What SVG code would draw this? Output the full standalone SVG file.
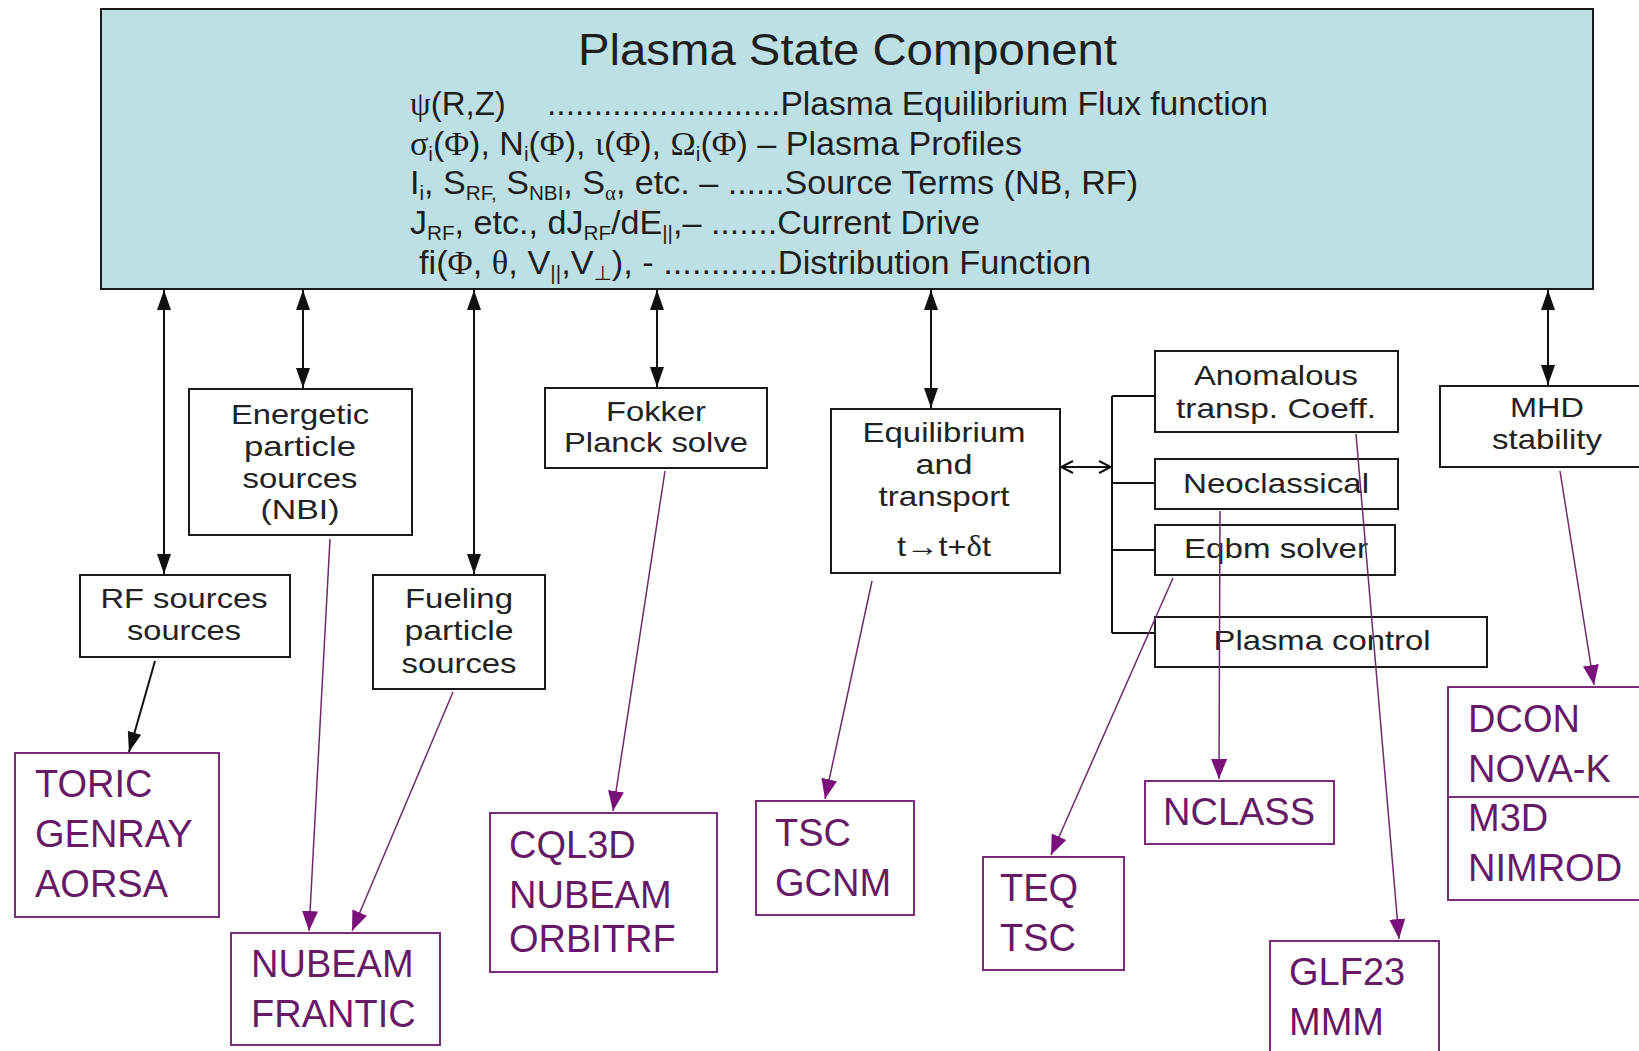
<svg xmlns="http://www.w3.org/2000/svg" width="1639" height="1051" viewBox="0 0 1639 1051">
<style>
.t{font-family:"Liberation Sans","DejaVu Sans",sans-serif;fill:#1e1e1e}
.bx{font-family:"Liberation Sans","DejaVu Sans",sans-serif;fill:#222;font-size:28.5px;text-anchor:middle}
.sf{font-family:"Liberation Serif","DejaVu Serif",serif}
.code{font-family:"Liberation Sans","DejaVu Sans",sans-serif;fill:#661a66;font-size:38px}
.g{font-family:"Liberation Serif","DejaVu Serif",serif}
.nb{fill:#fff;stroke:#1a1a1a;stroke-width:2}
.pb{fill:#fff;stroke:#7a2a7a;stroke-width:2}
.ba{stroke:#111;stroke-width:2;fill:none}
.pa{stroke:#6e2a6e;stroke-width:1.5;fill:none}
</style>
<defs>
<marker id="ab" markerUnits="userSpaceOnUse" markerWidth="20" markerHeight="14" refX="20" refY="7" orient="auto-start-reverse" viewBox="0 0 20 14"><path d="M0,0 L20,7 L0,14 z" fill="#111"/></marker>
<marker id="ap" markerUnits="userSpaceOnUse" markerWidth="20" markerHeight="16" refX="20" refY="8" orient="auto" viewBox="0 0 20 16"><path d="M0,0 L20,8 L0,16 z" fill="#7a107a"/></marker>
<marker id="ao" markerUnits="userSpaceOnUse" markerWidth="14" markerHeight="14" refX="13" refY="7" orient="auto-start-reverse" viewBox="0 0 14 14"><path d="M1,1 L13,7 L1,13" fill="none" stroke="#111" stroke-width="2"/></marker>
</defs>
<rect width="1639" height="1051" fill="#fff"/>

<g id="plasma-state">
<rect x="101" y="9" width="1492" height="280" fill="#bde0e4" stroke="#1a1a1a" stroke-width="2"/>
<text class="t" x="578" y="65" font-size="44" textLength="539" lengthAdjust="spacingAndGlyphs">Plasma State Component</text>
<text class="t" x="410" y="115" font-size="33"><tspan class="g">ψ</tspan>(R,Z)</text>
<text class="t" x="547" y="115" font-size="33" textLength="721" lengthAdjust="spacingAndGlyphs">.........................Plasma Equilibrium Flux function</text>
<text class="t" x="410" y="155" font-size="33" textLength="612" lengthAdjust="spacingAndGlyphs"><tspan class="g">σ</tspan><tspan font-size="20" dy="6">i</tspan><tspan dy="-6">(</tspan><tspan class="g">Φ</tspan>), N<tspan font-size="20" dy="6">i</tspan><tspan dy="-6">(</tspan><tspan class="g">Φ</tspan>), <tspan class="g">ι</tspan>(<tspan class="g">Φ</tspan>), <tspan class="g">Ω</tspan><tspan font-size="20" dy="6">i</tspan><tspan dy="-6">(</tspan><tspan class="g">Φ</tspan>) – Plasma Profiles</text>
<text class="t" x="410" y="194" font-size="33" textLength="728" lengthAdjust="spacingAndGlyphs">I<tspan font-size="20" dy="6">i</tspan><tspan dy="-6">, S</tspan><tspan font-size="20" dy="6">RF,</tspan><tspan dy="-6"> S</tspan><tspan font-size="20" dy="6">NBI</tspan><tspan dy="-6">, S</tspan><tspan font-size="20" dy="6" class="g">α</tspan><tspan dy="-6">, etc. – ......Source Terms (NB, RF)</tspan></text>
<text class="t" x="410" y="234" font-size="33" textLength="570" lengthAdjust="spacingAndGlyphs">J<tspan font-size="20" dy="6">RF</tspan><tspan dy="-6">, etc., dJ</tspan><tspan font-size="20" dy="6">RF</tspan><tspan dy="-6">/dE</tspan><tspan font-size="20" dy="6">||</tspan><tspan dy="-6">,– .......Current Drive</tspan></text>
<text class="t" x="419" y="274" font-size="33" textLength="672" lengthAdjust="spacingAndGlyphs">fi(<tspan class="g">Φ</tspan>, <tspan class="g">θ</tspan>, V<tspan font-size="20" dy="6">||</tspan><tspan dy="-6">,V</tspan><tspan font-size="20" dy="6">⊥</tspan><tspan dy="-6">), - ............Distribution Function</tspan></text>
</g>

<g id="rf-sources"><rect class="nb" x="80" y="575" width="210" height="82"/><text class="bx" x="184" y="608" textLength="167" lengthAdjust="spacingAndGlyphs">RF sources</text><text class="bx" x="184" y="640" textLength="114" lengthAdjust="spacingAndGlyphs">sources</text></g>
<g id="energetic"><rect class="nb" x="189" y="389" width="223" height="146"/><text class="bx" x="300" y="424" textLength="138" lengthAdjust="spacingAndGlyphs">Energetic</text><text class="bx" x="300" y="456" textLength="112" lengthAdjust="spacingAndGlyphs">particle</text><text class="bx" x="300" y="488" textLength="115" lengthAdjust="spacingAndGlyphs">sources</text><text class="bx" x="300" y="519" textLength="79" lengthAdjust="spacingAndGlyphs">(NBI)</text></g>
<g id="fueling"><rect class="nb" x="373" y="575" width="172" height="114"/><text class="bx" x="459" y="608" textLength="108" lengthAdjust="spacingAndGlyphs">Fueling</text><text class="bx" x="459" y="640" textLength="109" lengthAdjust="spacingAndGlyphs">particle</text><text class="bx" x="459" y="673" textLength="115" lengthAdjust="spacingAndGlyphs">sources</text></g>
<g id="fokker"><rect class="nb" x="545" y="388" width="222" height="80"/><text class="bx" x="656" y="421" textLength="100" lengthAdjust="spacingAndGlyphs">Fokker</text><text class="bx" x="656" y="452" textLength="184" lengthAdjust="spacingAndGlyphs">Planck solve</text></g>
<g id="equilibrium"><rect class="nb" x="831" y="409" width="229" height="164"/><text class="bx" x="944" y="442" textLength="163" lengthAdjust="spacingAndGlyphs">Equilibrium</text><text class="bx" x="944" y="474" textLength="57" lengthAdjust="spacingAndGlyphs">and</text><text class="bx" x="944" y="506" textLength="131" lengthAdjust="spacingAndGlyphs">transport</text><text class="bx" x="944" y="556" textLength="94" lengthAdjust="spacingAndGlyphs">t<tspan class="t">→</tspan>t+<tspan class="g">δ</tspan>t</text></g>
<g id="anomalous"><rect class="nb" x="1155" y="351" width="243" height="81"/><text class="bx" x="1276" y="385" textLength="164" lengthAdjust="spacingAndGlyphs">Anomalous</text><text class="bx" x="1276" y="418" textLength="200" lengthAdjust="spacingAndGlyphs">transp. Coeff.</text></g>
<g id="neoclassical"><rect class="nb" x="1155" y="459" width="243" height="50"/><text class="bx" x="1276" y="493" textLength="186" lengthAdjust="spacingAndGlyphs">Neoclassical</text></g>
<g id="eqbm"><rect class="nb" x="1155" y="525" width="240" height="50"/><text class="bx" x="1276" y="558" textLength="184" lengthAdjust="spacingAndGlyphs">Eqbm solver</text></g>
<g id="plasma-control"><rect class="nb" x="1155" y="617" width="332" height="50"/><text class="bx" x="1322" y="650" textLength="217" lengthAdjust="spacingAndGlyphs">Plasma control</text></g>
<g id="mhd"><rect class="nb" x="1440" y="386" width="230" height="81"/><text class="bx" x="1547" y="417" textLength="74" lengthAdjust="spacingAndGlyphs">MHD</text><text class="bx" x="1547" y="449" textLength="110" lengthAdjust="spacingAndGlyphs">stability</text></g>

<g id="toric"><rect class="pb" x="15" y="753" width="204" height="164"/><text class="code" x="35" y="797">TORIC</text><text class="code" x="35" y="847">GENRAY</text><text class="code" x="35" y="897">AORSA</text></g>
<g id="nubeam-frantic"><rect class="pb" x="231" y="933" width="209" height="112"/><text class="code" x="251" y="977">NUBEAM</text><text class="code" x="251" y="1027">FRANTIC</text></g>
<g id="cql3d"><rect class="pb" x="490" y="813" width="227" height="159"/><text class="code" x="509" y="858">CQL3D</text><text class="code" x="509" y="908">NUBEAM</text><text class="code" x="509" y="952">ORBITRF</text></g>
<g id="tsc-gcnm"><rect class="pb" x="756" y="801" width="158" height="114"/><text class="code" x="775" y="846">TSC</text><text class="code" x="775" y="896">GCNM</text></g>
<g id="teq-tsc"><rect class="pb" x="983" y="857" width="141" height="113"/><text class="code" x="1000" y="901">TEQ</text><text class="code" x="1000" y="951">TSC</text></g>
<g id="nclass"><rect class="pb" x="1145" y="781" width="189" height="63"/><text class="code" x="1163" y="825">NCLASS</text></g>
<g id="glf23"><rect class="pb" x="1270" y="941" width="169" height="130"/><text class="code" x="1289" y="985">GLF23</text><text class="code" x="1289" y="1035">MMM</text></g>
<g id="dcon"><rect class="pb" x="1448" y="687" width="220" height="213"/><line x1="1448" y1="797" x2="1639" y2="797" stroke="#7a2a7a" stroke-width="2"/><text class="code" x="1468" y="732">DCON</text><text class="code" x="1468" y="782">NOVA-K</text><text class="code" x="1468" y="831">M3D</text><text class="code" x="1468" y="881">NIMROD</text></g>

<g id="connectors">
<line class="ba" x1="164" y1="290" x2="164" y2="574" marker-start="url(#ab)" marker-end="url(#ab)"/>
<line class="ba" x1="303" y1="290" x2="303" y2="388" marker-start="url(#ab)" marker-end="url(#ab)"/>
<line class="ba" x1="474" y1="290" x2="474" y2="574" marker-start="url(#ab)" marker-end="url(#ab)"/>
<line class="ba" x1="657" y1="290" x2="657" y2="387" marker-start="url(#ab)" marker-end="url(#ab)"/>
<line class="ba" x1="931" y1="290" x2="931" y2="408" marker-start="url(#ab)" marker-end="url(#ab)"/>
<line class="ba" x1="1548" y1="290" x2="1548" y2="385" marker-start="url(#ab)" marker-end="url(#ab)"/>
<line class="ba" x1="1061" y1="467" x2="1111" y2="467" marker-start="url(#ao)" marker-end="url(#ao)"/>
<path class="ba" d="M1112,396 V633 M1112,396 H1155 M1112,483 H1155 M1112,550 H1155 M1112,633 H1155"/>
<line class="ba" x1="155" y1="661" x2="129" y2="752" stroke-width="1.5" marker-end="url(#ab)"/>
<line class="pa" x1="330" y1="539" x2="309" y2="931" marker-end="url(#ap)"/>
<line class="pa" x1="453" y1="692" x2="352" y2="931" marker-end="url(#ap)"/>
<line class="pa" x1="665" y1="471" x2="613" y2="811" marker-end="url(#ap)"/>
<line class="pa" x1="872" y1="581" x2="825" y2="799" marker-end="url(#ap)"/>
<line class="pa" x1="1173" y1="578" x2="1051" y2="855" marker-end="url(#ap)"/>
<line class="pa" x1="1220" y1="511" x2="1219" y2="779" marker-end="url(#ap)"/>
<line class="pa" x1="1356" y1="434" x2="1399" y2="939" marker-end="url(#ap)"/>
<line class="pa" x1="1560" y1="471" x2="1594" y2="685" marker-end="url(#ap)"/>
</g>
</svg>
